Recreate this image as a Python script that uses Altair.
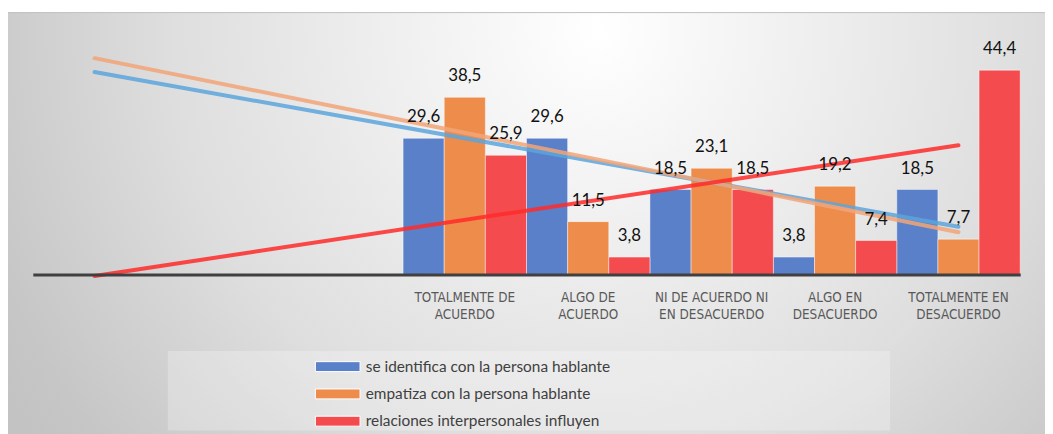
import altair as alt
import pandas as pd

# ---- data ----
categories = ["TOTALMENTE DE|ACUERDO", "ALGO DE|ACUERDO", "NI DE ACUERDO NI|EN DESACUERDO",
              "ALGO EN|DESACUERDO", "TOTALMENTE EN|DESACUERDO"]
blank_slots = ["_1", "_2", "_3"]          # empty category slots on the left of the axis
series = ["se identifica con la persona hablante",
          "empatiza con la persona hablante",
          "relaciones interpersonales influyen"]
identifica = [29.6, 29.6, 18.5, 3.8, 18.5]
empatiza = [38.5, 11.5, 23.1, 19.2, 7.7]
relaciones = [25.9, 3.8, 18.5, 7.4, 44.4]
# linear trend lines: value at the first (empty) slot and at the last category
trend_start = [44.0, 47.0, -0.3]
trend_end = [10.4, 9.2, 28.1]

bar_colors = ["#5A80C9", "#EE8C4B", "#F44B4E"]
trend_colors = ["#5AA5DC", "#F2A578", "#FF2A2A"]

domain = blank_slots + categories

rows = []
for s, vals in zip(series, [identifica, empatiza, relaciones]):
    for c, v in zip(categories, vals):
        rows.append({"cat": c, "series": s, "value": v})
bars_df = pd.DataFrame(rows)

trend_rows = []
for s, a, b in zip(series, trend_start, trend_end):
    trend_rows.append({"cat": blank_slots[0], "series": s, "value": a})
    trend_rows.append({"cat": categories[-1], "series": s, "value": b})
trend_df = pd.DataFrame(trend_rows)

one = pd.DataFrame({"k": [0]})

W, H = 995, 232
FONT = "DejaVu Sans Condensed, Lato, sans-serif"
LFONT = "Lato, sans-serif"

x_enc = alt.X("cat:N", sort=domain,
              scale=alt.Scale(domain=domain, paddingInner=0, paddingOuter=0),
              axis=alt.Axis(title=None, ticks=False, grid=False, labelAngle=0, zindex=2,
                            domain=True, domainColor="#404040", domainWidth=3,
                            labelExpr="indexof(datum.label, '_') == 0 ? '' : split(datum.label, '|')",
                            labelFont=FONT, labelFontSize=13.5, labelColor="#595959",
                            labelLineHeight=17, labelPadding=16, labelLimit=300))
y_enc = alt.Y("value:Q", scale=alt.Scale(domain=[0, 50], nice=False, zero=False), axis=None)

bg = alt.Chart(one).mark_rect(
    fill=alt.RadialGradient(gradient="radial",
                            stops=[alt.GradientStop(color="#ffffff", offset=0),
                                   alt.GradientStop(color="#dedede", offset=0.62),
                                   alt.GradientStop(color="#c6c6c6", offset=0.93),
                                   alt.GradientStop(color="#c3c3c3", offset=1)],
                            x1=0.57, y1=0.311, r1=0, x2=0.57, y2=0.311, r2=0.67),
    stroke="#c0c0c0", strokeWidth=1
).encode(x=alt.value(-26), x2=alt.value(1021), y=alt.value(-32), y2=alt.value(395))

legend_box = alt.Chart(one).mark_rect(fill="#ffffff", fillOpacity=0.25).encode(
    x=alt.value(136), x2=alt.value(864), y=alt.value(309), y2=alt.value(389))

bars = alt.Chart(bars_df).mark_bar(stroke="#ffffff", strokeOpacity=0.45, strokeWidth=1).encode(
    x=x_enc,
    xOffset=alt.XOffset("series:N", sort=series,
                        scale=alt.Scale(domain=series, paddingInner=0, paddingOuter=0)),
    y=y_enc,
    color=alt.Color("series:N", sort=series,
                    scale=alt.Scale(domain=series, range=bar_colors),
                    legend=alt.Legend(title=None, orient="none", legendX=299.5, legendY=317,
                                      symbolType="M-4.5,-1H4.5V1H-4.5Z", symbolSize=100,
                                      symbolStrokeColor="#ffffff", symbolStrokeWidth=1,
                                      symbolOpacity=1, rowPadding=10.5, labelOffset=20.5,
                                      padding=0, labelFont=LFONT, labelFontSize=15.5,
                                      labelColor="#404040", labelLimit=500, zindex=2)),
)

trend = alt.Chart(trend_df).mark_line(strokeWidth=4, opacity=0.85, strokeCap="round").encode(
    x=x_enc,
    y=y_enc,
    color=alt.Color("series:N", scale=alt.Scale(domain=series, range=trend_colors), legend=None),
)

labels = alt.Chart(bars_df).transform_calculate(
    lbl="replace(format(datum.value, '.1f'), '.', ',')"
).mark_text(dy=-16, baseline="alphabetic", fontSize=17, font=LFONT, color="#111111").encode(
    x=x_enc,
    xOffset=alt.XOffset("series:N", sort=series,
                        scale=alt.Scale(domain=series, paddingInner=0, paddingOuter=0)),
    y=y_enc,
    text="lbl:N",
)

chart = alt.layer(bg, legend_box, bars, trend, labels).resolve_scale(
    color="independent"
).properties(
    width=W, height=H,
    autosize=alt.AutoSizeParams(type="none"),
    padding={"left": 25, "top": 35, "right": 25, "bottom": 159},
    background="#ffffff",
).configure_view(strokeWidth=0)

chart.save("out.html", embed_options={"renderer": "svg", "actions": False})
